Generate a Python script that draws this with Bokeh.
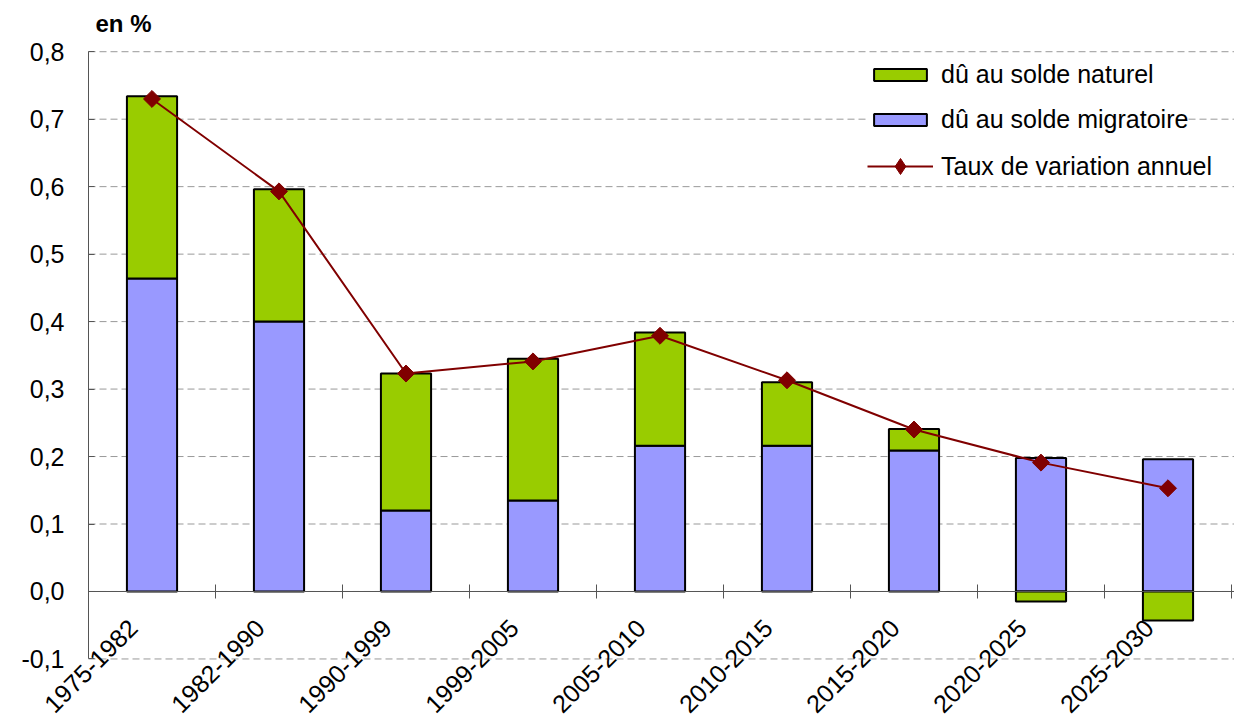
import math
import numpy as np
from bokeh.plotting import figure
from bokeh.models import (ColumnDataSource, FixedTicker, LinearAxis, CustomJSTickFormatter,
                          Range1d, Legend, LegendItem, Label)
from bokeh.embed import file_html
from bokeh.resources import INLINE

periods = ["1975-1982", "1982-1990", "1990-1999", "1999-2005", "2005-2010",
           "2010-2015", "2015-2020", "2020-2025", "2025-2030"]
migratoire = [0.464, 0.400, 0.120, 0.135, 0.216, 0.216, 0.209, 0.198, 0.196]
naturel = [0.270, 0.196, 0.203, 0.210, 0.168, 0.094, 0.032, -0.015, -0.043]
taux = [0.730, 0.593, 0.323, 0.341, 0.379, 0.313, 0.240, 0.191, 0.153]
y_ticks = [-0.1, 0.0, 0.1, 0.2, 0.3, 0.4, 0.5, 0.6, 0.7, 0.8]

FONT = "Liberation Sans"
GREEN = "#99CC00"
BLUE = "#9999FF"
RED = "#800000"
AXIS = "#555555"

X_END = 9.5 + 3 / 127.0

xpos = np.arange(1, len(periods) + 1)
mig = np.array(migratoire)
nat = np.array(naturel)
nat_bottom = np.where(nat >= 0, mig, 0.0)
nat_top = np.where(nat >= 0, mig + nat, nat)

src = ColumnDataSource(dict(x=xpos, mig=mig, nb=nat_bottom, nt=nat_top, taux=taux))

p = figure(width=1234, height=721, output_backend="svg", toolbar_location=None,
           x_range=Range1d(0.5 - 88 / 127.0, X_END),
           y_range=Range1d(-0.1927, 0.8759),
           x_axis_location=None, y_axis_location=None,
           min_border_left=0, min_border_top=0, min_border_right=0, min_border_bottom=0)
p.outline_line_color = None
p.xgrid.visible = False
p.ygrid.visible = False

# horizontal grid lines, only right of the value axis
p.segment(x0=[0.5] * len(y_ticks), x1=[X_END] * len(y_ticks), y0=y_ticks, y1=y_ticks,
          line_color="#999999", line_dash="7 4", line_width=1, level="underlay")

yax = LinearAxis(fixed_location=0.5, bounds=(-0.1, 0.8),
                 ticker=FixedTicker(ticks=y_ticks),
                 formatter=CustomJSTickFormatter(code="return tick.toFixed(1).replace('.', ',');"),
                 axis_line_color=AXIS, major_tick_line_color=AXIS,
                 major_tick_in=6, major_tick_out=0, minor_tick_line_color=None,
                 major_label_text_font=FONT, major_label_text_font_size="25px",
                 major_label_text_color="black", major_label_standoff=24)
p.add_layout(yax, "left")

# bars
r_mig = p.vbar(x="x", width=0.395, bottom=0, top="mig", source=src, fill_color=BLUE,
               line_color="black", line_width=2)
r_nat = p.vbar(x="x", width=0.395, bottom="nb", top="nt", source=src, fill_color=GREEN,
               line_color="black", line_width=2)
r_line = p.line(x="x", y="taux", source=src, line_color=RED, line_width=2)
r_pts = p.scatter(x="x", y="taux", source=src, marker="square", angle=math.pi / 4, size=12,
                  fill_color=RED, line_color=RED)
# legend-only diamond (no visible data)
r_leg = p.scatter(x=[float("nan")], y=[float("nan")], marker="diamond", size=18,
                  fill_color=RED, line_color=RED)

# category axis at y = 0: ticks between categories
tick_ax = LinearAxis(fixed_location=0, bounds=(0.5, X_END),
                     ticker=FixedTicker(ticks=[0.5 + i for i in range(10)]),
                     formatter=CustomJSTickFormatter(code="return '';"),
                     axis_line_color=AXIS, major_tick_line_color=AXIS,
                     major_tick_in=7, major_tick_out=7, minor_tick_line_color=None)
p.add_layout(tick_ax, "below")

lab_pos = [float(i) - 0.15 for i in xpos]
lab_ax = LinearAxis(fixed_location=0,
                    ticker=FixedTicker(ticks=lab_pos),
                    formatter=CustomJSTickFormatter(
                        args=dict(names=periods),
                        code="return names[Math.round(tick + 0.15) - 1];"),
                    axis_line_color=None, major_tick_line_color=None, minor_tick_line_color=None,
                    major_label_orientation=math.pi / 4,
                    major_label_text_font=FONT, major_label_text_font_size="25px",
                    major_label_text_color="black", major_label_standoff=26)
p.add_layout(lab_ax, "below")

common = dict(border_line_color=None, background_fill_color="white", background_fill_alpha=1.0,
              label_text_font=FONT, label_text_font_size="25px", label_text_color="black",
              glyph_width=66, padding=12, label_standoff=8, margin=0)

legend_bars = Legend(items=[LegendItem(label="dû au solde naturel", renderers=[r_nat]),
                            LegendItem(label="dû au solde migratoire", renderers=[r_mig])],
                     location=(867, 587), glyph_height=15, label_height=30, spacing=15, **common)
legend_line = Legend(items=[LegendItem(label="Taux de variation annuel", renderers=[r_line, r_leg])],
                     location=(867, 535), glyph_height=40, label_height=40, spacing=0, **common)
p.add_layout(legend_bars, "center")
p.add_layout(legend_line, "center")

p.add_layout(Label(x=0.5, y=0.8, x_offset=7, y_offset=28, text="en %", text_font=FONT,
                   text_font_size="24px", text_font_style="bold", text_color="black",
                   text_baseline="alphabetic"))

open("out.html", "w").write(file_html(p, INLINE))
